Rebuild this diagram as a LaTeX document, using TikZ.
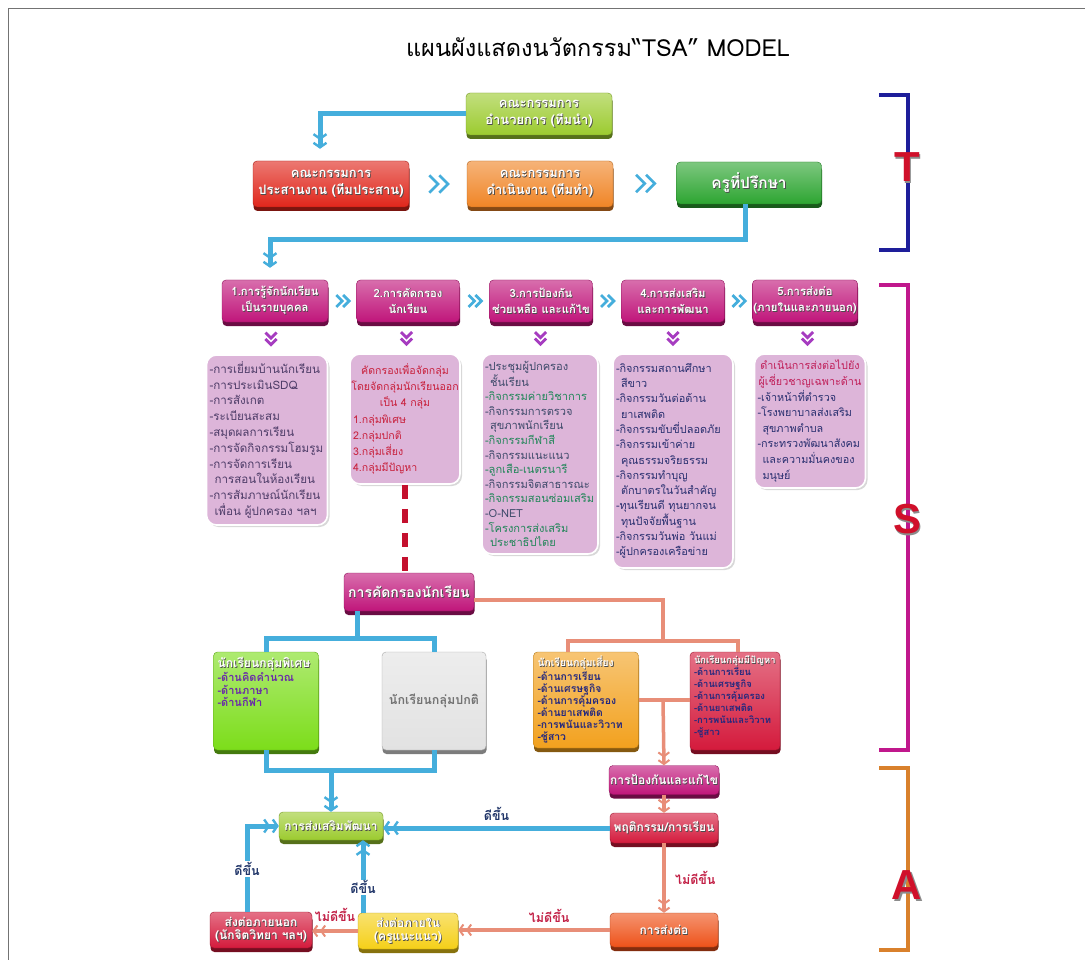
\documentclass[tikz,border=0pt]{standalone}
\usepackage{fontspec}
\setmainfont[Script=Thai]{Loma}
\newfontfamily\latf{Liberation Sans}
\usetikzlibrary{arrows.meta,shadows,calc}

\definecolor{cLime}{HTML}{9CCB2F}
\definecolor{cRed}{HTML}{E0261B}
\definecolor{cOrange}{HTML}{F08526}
\definecolor{cGreen}{HTML}{2DA531}
\definecolor{cMag}{HTML}{C0157A}
\definecolor{cBGreen}{HTML}{7CDD1A}
\definecolor{cGray}{HTML}{E2E2E2}
\definecolor{cGold}{HTML}{F2A11E}
\definecolor{cCrim}{HTML}{D41A3C}
\definecolor{cYellow}{HTML}{F5D018}
\definecolor{cOrRed}{HTML}{EE5219}
\definecolor{cBlue}{HTML}{45AEDC}
\definecolor{cSalmon}{HTML}{E88E78}
\definecolor{cLilac}{HTML}{DDB5D9}
\definecolor{cPurple}{HTML}{A63CC0}
\definecolor{cDash}{HTML}{C4102E}
\definecolor{cNavy}{HTML}{1E1E9A}
\definecolor{cBrMag}{HTML}{C0188C}
\definecolor{cBrOr}{HTML}{D9812C}
\definecolor{cLetter}{HTML}{D0102A}
\definecolor{tList}{HTML}{4E3C68}
\definecolor{tRed}{HTML}{C8203C}
\definecolor{tSlate}{HTML}{3E4A6A}
\definecolor{tGreen}{HTML}{23865A}
\definecolor{tNavy}{HTML}{2A3070}
\definecolor{tPink}{HTML}{C0205A}
\definecolor{tItem}{HTML}{6A2CA8}
\definecolor{tDark}{HTML}{24287E}
\definecolor{tGood}{HTML}{1F3468}
\definecolor{tBad}{HTML}{C21F45}

% white lettering with a soft dark drop
\newcommand\sdw[1]{\leavevmode\rlap{\kern0.8pt\raisebox{-0.8pt}{\textcolor{black!70}{#1}}}#1}
% large bracket letters with a grey drop
\newcommand\bigsh[1]{\leavevmode\rlap{\kern1.6pt\raisebox{-2pt}{\textcolor{black!45}{#1}}}#1}
\newcommand\la[1]{\textcolor{tSlate}{#1}}
\newcommand\lb[1]{\textcolor{tGreen}{#1}}
\newcommand\gi[1]{\textcolor{tItem}{#1}}
\newcommand\gd[1]{\textcolor{tDark}{#1}}
\newcommand\ind{\hspace*{5pt}}

\tikzset{
  dch/.tip={Straight Barb[length=4.5pt,width=13pt,line width=2.4pt,sep=1.5pt]Straight Barb[length=4.5pt,width=13pt,line width=2.4pt]},
  sch/.tip={Straight Barb[length=4pt,width=11pt,line width=2pt,sep=1.5pt]Straight Barb[length=4pt,width=11pt,line width=2pt]},
  pics/dchev/.style={code={
    \draw[line width=2.8pt,line join=miter,#1] (-7,-7)--(0,0)--(-7,7) (1,-7)--(8,0)--(1,7);}},
}

\begin{document}
\begin{tikzpicture}[x=1pt,y=-1pt,
  bx/.style={rounded corners=4pt, align=center, text=white,
    font=\bfseries\fontsize{13}{17}\selectfont,
    top color=#1!62!white, bottom color=#1, draw=#1!75!black, line width=0.4pt,
    inner sep=1pt,
    drop shadow={shadow xshift=0.5pt, shadow yshift=-4pt, fill=#1!55!black, opacity=1}},
  mg/.style={bx=cMag, minimum width=103, minimum height=42, font=\bfseries\fontsize{11.3}{16}\selectfont},
  low/.style={font=\bfseries\fontsize{12}{14}\selectfont},
  lst/.style={rounded corners=10pt, fill=cLilac, draw=white, line width=1.6pt,
    drop shadow={shadow xshift=2pt, shadow yshift=-2pt, fill=black!30, opacity=0.5},
    align=left, inner sep=3pt},
  bline/.style={line width=5pt, draw=cBlue},
  sline/.style={line width=3.5pt, draw=cSalmon},
  lg/.style={font=\bfseries\fontsize{12.5}{14}\selectfont, text=tGood},
  lr/.style={font=\bfseries\fontsize{12.5}{14}\selectfont, text=tBad},
  bigl/.style={font=\latf\bfseries\fontsize{42}{42}\selectfont, text=cLetter, inner sep=0pt},
  grp/.style={anchor=north west, align=left, inner sep=0pt},
]
\useasboundingbox (0,0) rectangle (1085,960);
\fill[white] (0,0) rectangle (1085,960);
\draw[black!55, line width=0.8pt] (8,960) -- (8,8) -- (1085,8);

% title
\node (title) at (598,47) {\fontsize{23.5}{26}\selectfont แผนผังแสดงนวัตกรรม“TSA” MODEL};

% ---------- T : committees ----------
\node[bx=cLime, minimum width=146, minimum height=42] (nLead) at (539,114)
  {\sdw{คณะกรรมการ}\\\sdw{อำนวยการ (ทีมนำ)}};
\node[bx=cRed, minimum width=156, minimum height=46] (nCoord) at (331,184)
  {\sdw{คณะกรรมการ}\\\sdw{ประสานงาน (ทีมประสาน)}};
\node[bx=cOrange, minimum width=146, minimum height=46] (nOper) at (540,184)
  {\sdw{คณะกรรมการ}\\\sdw{ดำเนินงาน (ทีมทำ)}};
\node[bx=cGreen, minimum width=145, minimum height=42, font=\bfseries\fontsize{15.5}{18}\selectfont] (nAdv) at (749,183)
  {\sdw{ครูที่ปรึกษา}};

\pic[scale=1.25] at ($(nCoord.east)!0.5!(nOper.west)$) {dchev=cBlue};
\pic[scale=1.25] at ($(nOper.east)!0.5!(nAdv.west)$) {dchev=cBlue};

\draw[bline,-{dch},shorten >=12pt] (nLead.west) -| ([xshift=-11pt]nCoord.north);

% ---------- S : five steps ----------
\node[mg, minimum width=106] (M1) at (275,301)
  {\sdw{1.การรู้จักนักเรียน}\\\sdw{เป็นรายบุคคล}};
\node[mg] (M2) at (408,301)
  {\sdw{2.การคัดกรอง}\\\sdw{นักเรียน}};
\node[mg] (M3) at (541,301)
  {\sdw{3.การป้องกัน}\\\sdw{ช่วยเหลือ และแก้ไข}};
\node[mg] (M4) at (673,301)
  {\sdw{4.การส่งเสริม}\\\sdw{และการพัฒนา}};
\node[mg, minimum width=105] (M5) at (805,301)
  {\sdw{5.การส่งต่อ}\\\sdw{(ภายในและภายนอก)}};

\coordinate (jt) at (270,240);
\draw[bline,-{dch},shorten >=12pt] ([xshift=-4pt]nAdv.south) |- (jt) -- (jt |- M1.north);

\foreach \a/\b in {M1/M2,M2/M3,M3/M4,M4/M5}
  \pic[scale=0.85] at ($(\a.east)!0.5!(\b.west)$) {dchev=cBlue};

% lists under the steps
\node[lst, text=tList, text width=115, minimum height=170,
  font=\fontsize{11.6}{15.8}\selectfont] (L1) at (267,440)
  {-การเยี่ยมบ้านนักเรียน\\-การประเมินSDQ\\-การสังเกต\\-ระเบียนสะสม\\-สมุดผลการเรียน\\-การจัดกิจกรรมโฮมรูม\\-การจัดการเรียน\\\ind การสอนในห้องเรียน\\-การสัมภาษณ์นักเรียน\\\ind เพื่อน ผู้ปกครอง ฯลฯ};
\node[lst, text=tRed, text width=104, minimum height=130,
  font=\fontsize{10.6}{16.3}\selectfont] (L2) at (405,419)
  {\makebox[\linewidth][c]{คัดกรองเพื่อจัดกลุ่ม}\\\makebox[\linewidth][c]{โดยจัดกลุ่มนักเรียนออก}\\\makebox[\linewidth][c]{เป็น 4 กลุ่ม}\\1.กลุ่มพิเศษ\\2.กลุ่มปกติ\\3.กลุ่มเสี่ยง\\4.กลุ่มมีปัญหา};
\node[lst, text width=110, minimum height=200,
  font=\fontsize{11.1}{14.6}\selectfont] (L3) at (540,454)
  {\la{-ประชุมผู้ปกครอง}\\\la{\ind ชั้นเรียน}\\\lb{-กิจกรรมค่ายวิชาการ}\\\la{-กิจกรรมการตรวจ}\\\la{\ind สุขภาพนักเรียน}\\\lb{-กิจกรรมกีฬาสี}\\\la{-กิจกรรมแนะแนว}\\\lb{-ลูกเสือ-เนตรนารี}\\\la{-กิจกรรมจิตสาธารณะ}\\\lb{-กิจกรรมสอนซ่อมเสริม}\\\la{-O-NET}\\\lb{-โครงการส่งเสริม}\\\lb{\ind ประชาธิปไตย}};
\node[lst, text=tNavy, text width=114, minimum height=214,
  font=\fontsize{10.9}{15.3}\selectfont] (L4) at (673,461)
  {-กิจกรรมสถานศึกษา\\\ind สีขาว\\-กิจกรรมวันต่อต้าน\\\ind ยาเสพติด\\-กิจกรรมขับขี่ปลอดภัย\\-กิจกรรมเข้าค่าย\\\ind คุณธรรมจริยธรรม\\-กิจกรรมทำบุญ\\\ind ตักบาตรในวันสำคัญ\\-ทุนเรียนดี ทุนยากจน\\\ind ทุนปัจจัยพื้นฐาน\\-กิจกรรมวันพ่อ วันแม่\\-ผู้ปกครองเครือข่าย};
\node[lst, text=tNavy, text width=105, minimum height=134,
  font=\fontsize{10.8}{15.6}\selectfont] (L5) at (810,421)
  {\makebox[\linewidth][c]{\textcolor{tPink}{ดำเนินการส่งต่อไปยัง}}\\\makebox[\linewidth][c]{\textcolor{tPink}{ผู้เชี่ยวชาญเฉพาะด้าน}}\\-เจ้าหน้าที่ตำรวจ\\-โรงพยาบาลส่งเสริม\\\ind สุขภาพตำบล\\-กระทรวงพัฒนาสังคม\\\ind และความมั่นคงของ\\\ind มนุษย์};

\foreach \a/\b in {M1/L1,M2/L2,M3/L3,M4/L4,M5/L5}
  \pic[rotate=-90,scale=0.8] at ($(\a.south)!0.5!(\b.north)$) {dchev=cPurple};

% screening and the four groups
\node[bx=cMag, minimum width=130, minimum height=38, font=\bfseries\fontsize{14}{16}\selectfont] (S) at (409,592)
  {\sdw{การคัดกรองนักเรียน}};
\draw[line width=6pt, cDash, dash pattern=on 14pt off 10pt] (L2.south) -- (L2.south |- S.north);

\node[bx=cBGreen, minimum width=105, minimum height=98] (G1) at (266,701) {};
\node[grp, font=\bfseries\fontsize{11}{12.5}\selectfont] (G1t) at ([xshift=4pt,yshift=-5pt]G1.north west)
  {{\fontsize{12.2}{14}\selectfont\textcolor{white}{\sdw{นักเรียนกลุ่มพิเศษ}}}\\\gi{-ด้านคิดคำนวณ}\\\gi{-ด้านภาษา}\\\gi{-ด้านกีฬา}};
\node[bx=cGray, minimum width=104, minimum height=98, text=black!55, font=\bfseries\fontsize{12.5}{14}\selectfont] (G2) at (434,701)
  {นักเรียนกลุ่มปกติ};
\node[bx=cGold, minimum width=105, minimum height=96] (G3) at (586,700) {};
\node[grp, font=\bfseries\fontsize{10.4}{12}\selectfont] (G3t) at ([xshift=4pt,yshift=-4pt]G3.north west)
  {\textcolor{white}{\sdw{นักเรียนกลุ่มเสี่ยง}}\\\gd{-ด้านการเรียน}\\\gd{-ด้านเศรษฐกิจ}\\\gd{-ด้านการคุ้มครอง}\\\gd{-ด้านยาเสพติด}\\\gd{-การพนันและวิวาท}\\\gd{-ชู้สาว}};
\node[bx=cCrim, minimum width=90, minimum height=98] (G4) at (735,701) {};
\node[grp, font=\bfseries\fontsize{9.4}{12}\selectfont] (G4t) at ([xshift=4pt,yshift=-4pt]G4.north west)
  {\textcolor{white}{\sdw{นักเรียนกลุ่มมีปัญหา}}\\\gd{-ด้านการเรียน}\\\gd{-ด้านเศรษฐกิจ}\\\gd{-ด้านการคุ้มครอง}\\\gd{-ด้านยาเสพติด}\\\gd{-การพนันและวิวาท}\\\gd{-ชู้สาว}};

\coordinate (jb) at (357,638);
\draw[bline] (S.south -| jb) -- (jb);
\draw[bline] (G1.north) |- (jb) -| (G2.north);

\coordinate (js) at (663,641);
\draw[sline] ([yshift=-8pt]S.east) -| (js);
\draw[sline] ([xshift=-18pt]G3.north) |- (js) -| ([xshift=3pt]G4.north);
\draw[sline] (G3.east) -- (G3.east -| G4.west);

% ---------- A : follow-up ----------
\node[bx=cMag, minimum width=108, minimum height=29, low] (P1) at (664,780)
  {\sdw{การป้องกันและแก้ไข}};
\node[bx=cCrim, minimum width=108, minimum height=30, low] (P2) at (664,828)
  {\sdw{พฤติกรรม/การเรียน}};
\node[bx=cOrRed, minimum width=108, minimum height=34, low] (P3) at (664,930)
  {\sdw{การส่งต่อ}};
\node[bx=cLime, minimum width=104, minimum height=28, low] (D) at (331,826)
  {\sdw{การส่งเสริมพัฒนา}};
\node[bx=cYellow, minimum width=100, minimum height=36, font=\bfseries\fontsize{12}{13.5}\selectfont] (R1) at (408,931)
  {\sdw{ส่งต่อภายใน}\\\sdw{(ครูแนะแนว)}};
\node[bx=cCrim, minimum width=102, minimum height=36, font=\bfseries\fontsize{12}{13.5}\selectfont] (R2) at (261,930)
  {\sdw{ส่งต่อภายนอก}\\\sdw{(นักจิตวิทยา ฯลฯ)}};

\coordinate (jm) at (663,700);
\draw[sline,-{sch}] (jm) -- (P1.north);
\draw[sline,-{sch}] (P1.south) -- (P2.north);
\draw[sline,-{sch}] (P2.south) -- (P3.north) node[lr, pos=0.5, right=6pt] {ไม่ดีขึ้น};
\draw[sline,-{sch}] (P3.west) -- (P3.west -| R1.east) node[lr, pos=0.4, above=2pt] {ไม่ดีขึ้น};
\draw[sline,-{sch}] (R1.west) -- (R1.west -| R2.east) node[lr, midway, above=4pt] {ไม่ดีขึ้น};

\coordinate (jd) at (331,770);
\draw[bline] (G1.south) |- (jd) -| (G2.south);
\draw[bline,-{dch}] (jd) -- (D.north);
\draw[bline,-{dch}] (P2.west) -- (P2.west -| D.east) node[lg, midway, above=2pt] {ดีขึ้น};
\coordinate (r2t) at ([xshift=-14pt]R2.north);
\draw[bline,-{dch}] (r2t) |- (D.west) node[lg, pos=0.25, fill=white, inner sep=1pt] {ดีขึ้น};
\coordinate (r1t) at ([xshift=-45pt]R1.north);
\draw[bline,-{dch}] (r1t) -- (r1t |- D.south) node[lg, pos=0.35, fill=white, inner sep=1pt] {ดีขึ้น};

% ---------- T / S / A brackets ----------
\draw[line width=4pt, cNavy] (879,95) -- (908,95) -- (908,250) -- (879,250);
\draw[line width=4pt, cBrMag] (879,285) -- (908,285) -- (908,750) -- (879,750);
\draw[line width=4pt, cBrOr] (879,768) -- (908,768) -- (908,950) -- (879,950);
\node[bigl] (lT) at (907,168) {\bigsh{T}};
\node[bigl] (lS) at (907,520) {\bigsh{S}};
\node[bigl] (lA) at (907,886) {\bigsh{A}};
\end{tikzpicture}
\end{document}
